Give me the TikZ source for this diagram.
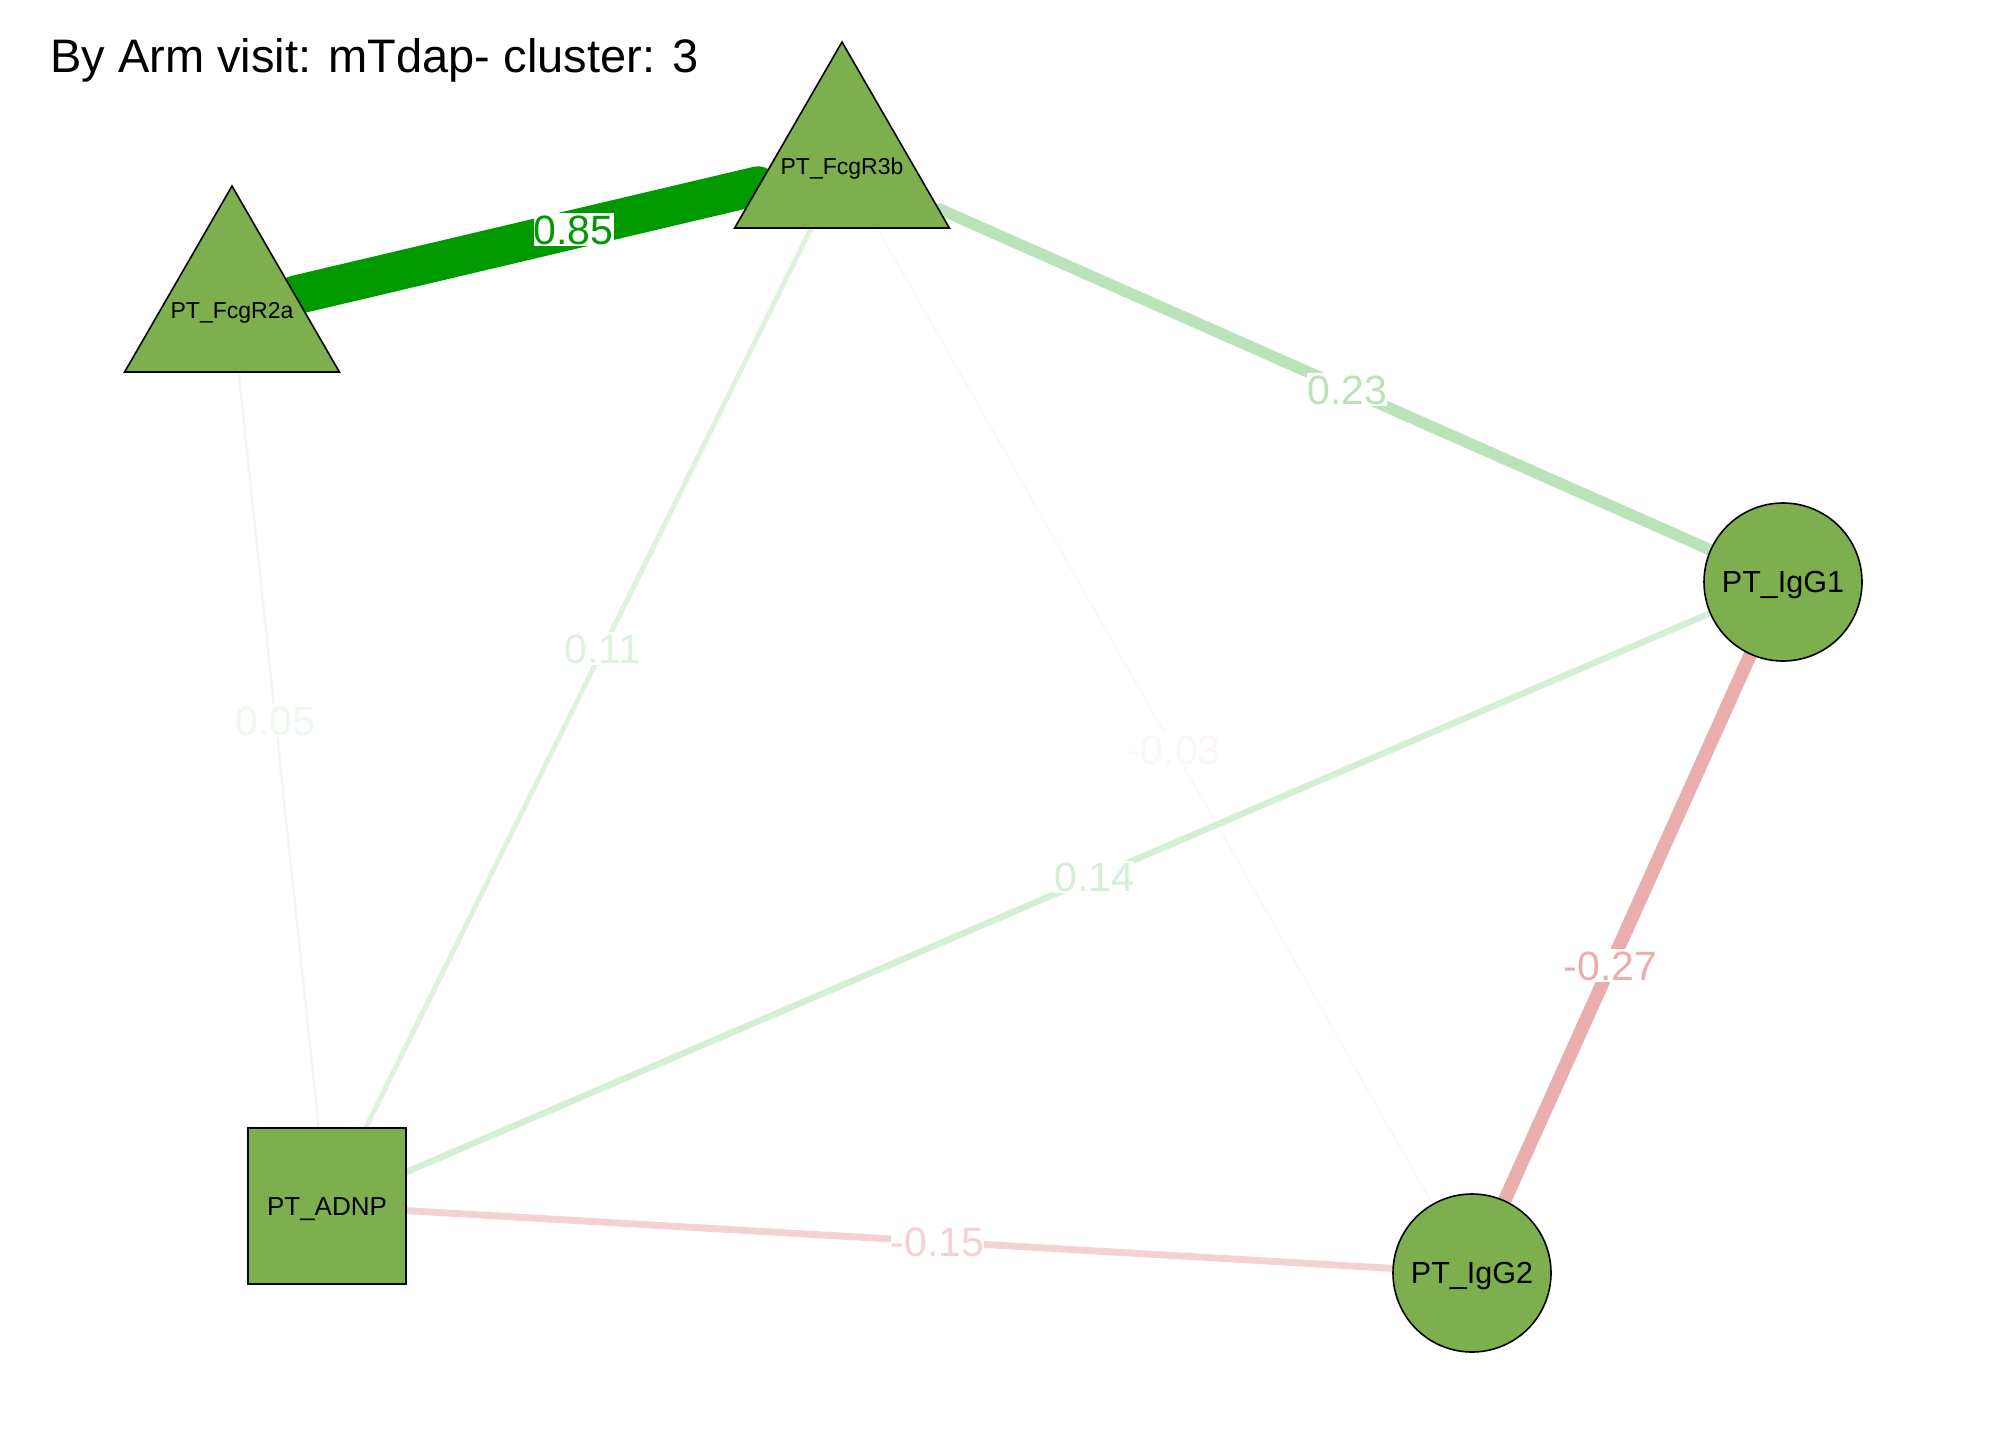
\documentclass[tikz,border=0pt]{standalone}
\usepackage{fontspec}
\setmainfont{Liberation Sans}
\usetikzlibrary{shapes.geometric,backgrounds}
\pgfdeclarelayer{edges}
\pgfsetlayers{background,edges,main}
\definecolor{posc}{HTML}{009900}
\definecolor{negc}{HTML}{BF0000}
\definecolor{nodefill}{RGB}{126,175,78}
\tikzset{
  basenode/.style={draw=black, line width=1.6pt, fill=nodefill, inner sep=0pt, text=black, text depth=0pt},
  tri/.style={basenode, regular polygon, regular polygon sides=3, minimum size=248pt},
  circ/.style={basenode, circle, minimum size=158pt, font=\fontsize{30.5}{36}\selectfont, text height=21.8pt},
  sq/.style={basenode, rectangle, minimum width=158pt, minimum height=156pt, font=\fontsize{26}{31}\selectfont, text height=18.6pt},
  trilab/.style={font=\fontsize{23}{28}\selectfont, inner sep=0pt, text=black, text height=16.5pt, text depth=0pt},
  edgeline/.style={line cap=round},
  elab/.style={fill=white, inner xsep=0pt, inner ysep=1pt, text height=30pt, text depth=0.5pt, font=\fontsize{41}{49}\selectfont},
}
\begin{document}
\begin{tikzpicture}[x=1pt,y=-1pt]
\begin{pgfonlayer}{background}
\fill[white] (0,0) rectangle (2016,1440);
\end{pgfonlayer}
\useasboundingbox (0,0) rectangle (2016,1440);
\node[anchor=base west, inner sep=0pt, font=\fontsize{47}{56}\selectfont] (title) at (50,72) {By Arm visit: mTdap- cluster: 3};

\node[tri, label={[trilab]center:PT\_FcgR3b}] (r3b) at (842,166) {};
\node[tri, label={[trilab]center:PT\_FcgR2a}] (r2a) at (232,310) {};
\node[circ] (igg1) at (1783,582) {PT\_IgG1};
\node[circ] (igg2) at (1472,1273) {PT\_IgG2};
\node[sq] (adnp) at (327,1206) {PT\_ADNP};

\begin{pgfonlayer}{edges}
\draw[edgeline, draw=negc!3.5!white, line width=1.4] (r3b) -- (igg2);
\draw[edgeline, draw=posc!6.5!white, line width=2.5] (r2a) -- (adnp);
\draw[edgeline, draw=posc!12.9!white, line width=5] (r3b) -- (adnp);
\draw[edgeline, draw=posc!16.5!white, line width=6.4] (igg1) -- (adnp);
\draw[edgeline, draw=negc!17.6!white, line width=6.9] (adnp) -- (igg2);
\draw[edgeline, draw=posc!27.1!white, line width=11.5] (r3b) -- (igg1);
\draw[edgeline, draw=negc!31.8!white, line width=13.5] (igg1) -- (igg2);
\draw[edgeline, draw=posc, line width=39] (r2a) -- (r3b);

\path (r2a.center) -- node[elab, text=posc, pos=0.56] (l85) {0.85} (r3b.center);
\path (r3b.center) -- node[elab, text=posc!27.1!white, pos=0.537] (l23) {0.23} (igg1.center);
\path (r3b.center) -- node[elab, text=posc!12.9!white, pos=0.464] (l11) {0.11} (adnp.center);
\path (r2a.center) -- node[elab, text=posc!6.5!white, pos=0.458] (l05) {0.05} (adnp.center);
\path (r3b.center) -- node[elab, text=negc!3.5!white, pos=0.527] (l03) {-0.03} (igg2.center);
\path (igg1.center) -- node[elab, text=posc!16.5!white, pos=0.473] (l14) {0.14} (adnp.center);
\path (igg1.center) -- node[elab, text=negc!31.8!white, pos=0.555] (l27) {-0.27} (igg2.center);
\path (adnp.center) -- node[elab, text=negc!17.6!white, pos=0.533] (l15) {-0.15} (igg2.center);
\end{pgfonlayer}
\end{tikzpicture}
\end{document}
